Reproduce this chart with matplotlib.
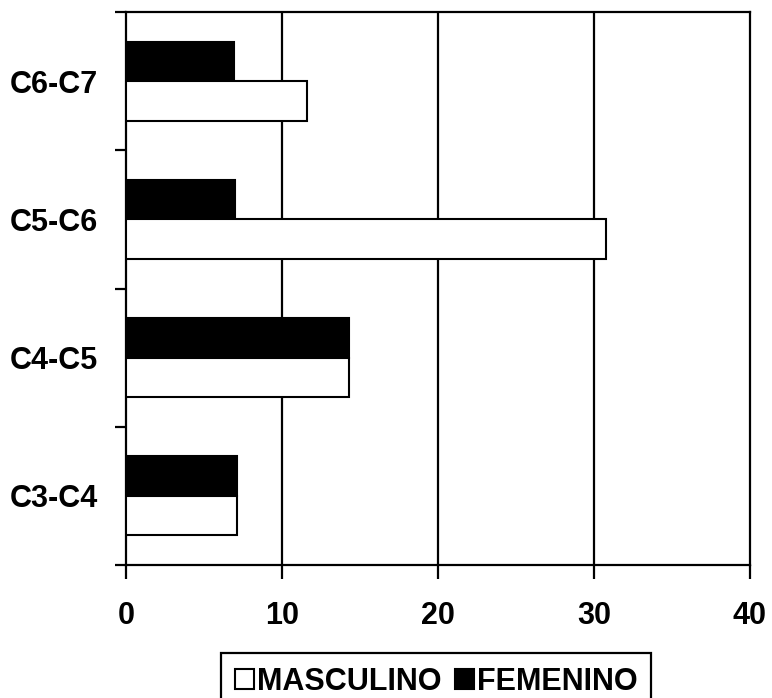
import numpy as np
import matplotlib
matplotlib.use("Agg")
import matplotlib.pyplot as plt
from matplotlib.patches import Patch

plt.rcParams['font.family'] = ['Liberation Sans', 'DejaVu Sans']
plt.rcParams['font.weight'] = 'bold'

categories = ['C3-C4', 'C4-C5', 'C5-C6', 'C6-C7']
masculino = [7.1, 14.3, 30.8, 11.6]
femenino = [7.1, 14.3, 7.0, 6.9]
xticks = [0, 10, 20, 30, 40]

fig = plt.figure(figsize=(7.72, 6.98), dpi=100)
ax = fig.add_axes([0.1632, 0.1905, 0.8083, 0.7923])

y = np.arange(len(categories))
h = 0.286
ax.barh(y + h / 2, femenino, height=h, color='black', edgecolor='black', linewidth=1.5, zorder=3)
ax.barh(y - h / 2, masculino, height=h, color='white', edgecolor='black', linewidth=1.5, zorder=3)

ax.set_xlim(0, 40)
ax.set_ylim(-0.5, len(categories) - 0.5)

# vertical gridlines
for xv in xticks[1:-1]:
    ax.axvline(xv, color='black', linewidth=1.6, zorder=1)

for s in ax.spines.values():
    s.set_linewidth(1.6)
    s.set_color('black')

ax.set_xticks(xticks)
ax.set_xticklabels([str(v) for v in xticks], fontsize=22, fontweight='bold')
ax.tick_params(axis='x', direction='out', length=10, width=1.6, pad=16)

ax.set_yticks(y)
ax.set_yticklabels(categories, fontsize=22, fontweight='bold')
ax.set_yticks(np.arange(-0.5, len(categories)), minor=True)
ax.tick_params(axis='y', which='major', length=0, pad=20)
ax.tick_params(axis='y', which='minor', direction='out', length=8, width=1.6)

handles = [Patch(facecolor='white', edgecolor='black', linewidth=1.5, label='MASCULINO'),
           Patch(facecolor='black', edgecolor='black', linewidth=1.5, label='FEMENINO')]
leg = fig.legend(handles=handles, loc='upper left', bbox_to_anchor=(0.2863, 0.0645),
                 ncol=2, prop={'weight': 'bold', 'size': 22},
                 frameon=True, fancybox=False, edgecolor='black', framealpha=1,
                 handlelength=0.62, handleheight=0.65, handletextpad=0.1,
                 columnspacing=0.45, borderpad=0.45, borderaxespad=0)
leg.get_frame().set_linewidth(1.6)

fig.savefig('out.png', dpi=100)
